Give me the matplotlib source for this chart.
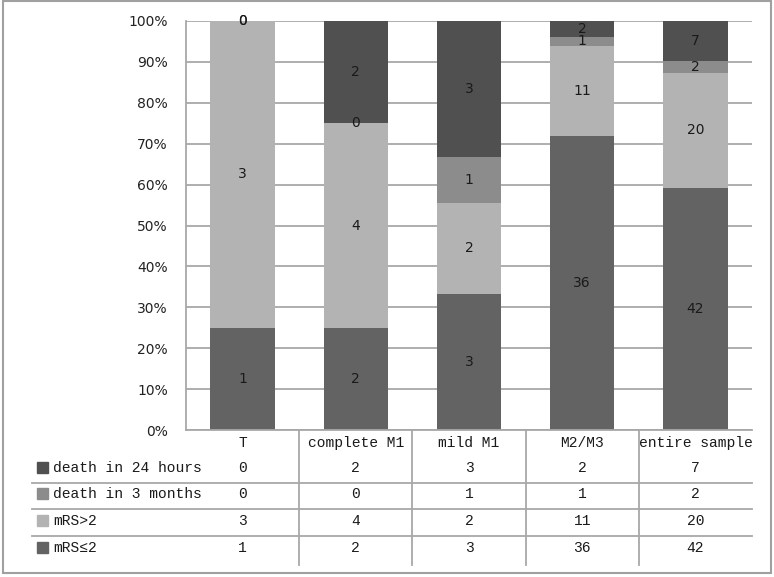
import matplotlib.pyplot as plt
from matplotlib.lines import Line2D
from matplotlib.patches import Rectangle
import numpy as np

categories = ["T", "complete M1", "mild M1", "M2/M3", "entire sample"]
series = ["death in 24 hours", "death in 3 months", "mRS>2", "mRS\u22642"]
death_24h = [0, 2, 3, 2, 7]
death_3m = [0, 0, 1, 1, 2]
mrs_gt2 = [3, 4, 2, 11, 20]
mrs_le2 = [1, 2, 3, 36, 42]
colors = {"death in 24 hours": "#505050", "death in 3 months": "#8c8c8c",
          "mRS>2": "#b3b3b3", "mRS\u22642": "#636363"}

W, H = 774, 577
fig = plt.figure(figsize=(W / 100, H / 100), dpi=100)
ax = fig.add_axes([186 / W, 1 - 430 / H, (752 - 186) / W, (430 - 21) / H])

values = {"death in 24 hours": death_24h, "death in 3 months": death_3m,
          "mRS>2": mrs_gt2, "mRS\u22642": mrs_le2}
totals = np.sum([mrs_le2, mrs_gt2, death_3m, death_24h], axis=0)
x = np.arange(len(categories))
bottom = np.zeros(len(categories))
for name in ["mRS\u22642", "mRS>2", "death in 3 months", "death in 24 hours"]:
    v = np.array(values[name])
    frac = v / totals
    ax.bar(x, frac, 0.57, bottom=bottom, color=colors[name], zorder=2)
    for i in range(len(x)):
        ax.text(x[i], bottom[i] + frac[i] / 2, str(v[i]), ha="center",
                va="center", fontsize=10, color="#1a1a1a", zorder=3)
    bottom += frac

ax.set_xlim(-0.5, len(categories) - 0.5)
ax.set_ylim(0, 1)
ax.set_yticks(np.arange(0, 1.01, 0.1))
ax.set_yticklabels([f"{int(round(t * 100))}%" for t in np.arange(0, 1.01, 0.1)],
                   fontsize=10, color="#222222")
ax.yaxis.grid(True, color="#a8a8a8", lw=1.3, zorder=0)
ax.tick_params(axis="y", length=0, pad=13)
ax.set_xticks([])
for s in ["top", "right"]:
    ax.spines[s].set_visible(False)
ax.spines["left"].set_color("#a8a8a8")
ax.spines["bottom"].set_color("#a8a8a8")
ax.spines["left"].set_linewidth(1.3)
ax.spines["bottom"].set_linewidth(1.3)

# data table below the axes (figure pixel coords -> fractions)
def fx(px):
    return px / W

def fy(py):
    return 1 - py / H

band = (752 - 186) / len(categories)
mono = "Liberation Mono"
for i, c in enumerate(categories):
    cx = 186 + band * (i + 0.5)
    fig.text(fx(cx), fy(443), c, ha="center", va="center", fontsize=10.5,
             family=mono, color="#1a1a1a")
row_y = [468, 494, 521, 548]
for r, name in enumerate(series):
    fig.patches.append(Rectangle((fx(37), fy(row_y[r] + 5)), 11 / W, 11 / H,
                                 transform=fig.transFigure,
                                 color=colors[name], figure=fig))
    fig.text(fx(53), fy(row_y[r]), name, ha="left", va="center", fontsize=10.5,
             family=[mono, "DejaVu Sans Mono"], color="#1a1a1a")
    for i, v in enumerate(values[name]):
        cx = 186 + band * (i + 0.5)
        fig.text(fx(cx), fy(row_y[r]), str(v), ha="center", va="center",
                 fontsize=10.5, family=mono, color="#1a1a1a")
for ly in [483, 509, 536]:
    fig.lines.append(Line2D([fx(32), fx(752)], [fy(ly), fy(ly)],
                            transform=fig.transFigure, color="#a8a8a8", lw=1.3))
for i in range(1, len(categories)):
    vx = 186 + band * i
    fig.lines.append(Line2D([fx(vx), fx(vx)], [fy(430), fy(565)],
                            transform=fig.transFigure, color="#a8a8a8", lw=1.3))

# outer border
fig.patches.append(Rectangle((fx(3), fy(573)), (771 - 3) / W, (573 - 1) / H,
                             transform=fig.transFigure, fill=False,
                             edgecolor="#a0a0a0", lw=1.5, figure=fig))

fig.savefig("out.png", dpi=100)
